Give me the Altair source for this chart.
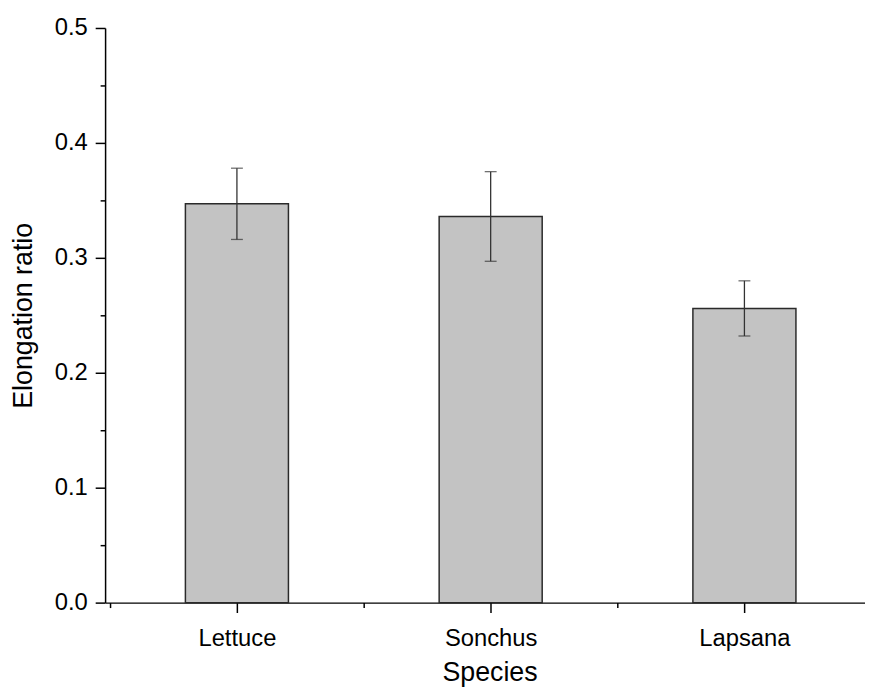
import altair as alt
import pandas as pd

species = ["Lettuce", "Sonchus", "Lapsana"]
means = [0.347, 0.336, 0.256]
errors = [0.031, 0.039, 0.024]
y_major = [0.0, 0.1, 0.2, 0.3, 0.4, 0.5]
y_minor = [0.05, 0.15, 0.25, 0.35, 0.45]
x_minor = [0.5, 1.5, 2.5]

positions = list(range(1, len(species) + 1))
df = pd.DataFrame({
    "species": species,
    "pos": positions,
    "mean": means,
    "lo": [m - e for m, e in zip(means, errors)],
    "hi": [m + e for m, e in zip(means, errors)],
})

FONT = "Arial, Liberation Sans, sans-serif"
W, H = 767, 580
step = 259.5
xdom = [0.5, 0.5 + W / step]
xscale = alt.Scale(domain=xdom, nice=False, zero=False)
yscale = alt.Scale(domain=[0, 0.5], nice=False, zero=True)

label_expr = "[" + ",".join("'%s'" % s for s in species) + "][datum.value - 1]"

x_major_axis = alt.Axis(values=positions, labelExpr=label_expr, title="Species",
                        tickSize=10, labelPadding=14, grid=False,
                        labelFontSize=24, titleFontSize=27, titlePadding=10,
                        titleX=388)
y_major_axis = alt.Axis(values=y_major, format=".1f", title="Elongation ratio",
                        tickSize=10, labelPadding=8, grid=False,
                        labelFontSize=24, titleFontSize=27, titlePadding=17)

bars = alt.Chart(df).mark_bar(size=104, color="#c3c3c3", stroke="#2a2a2a",
                              strokeWidth=1.5).encode(
    x=alt.X("pos:Q", scale=xscale, axis=x_major_axis),
    y=alt.Y("mean:Q", scale=yscale, axis=y_major_axis),
)

x_minor_axis = alt.Axis(values=x_minor, labels=False, domain=False, title=None,
                        tickSize=5, grid=False, orient="bottom")
y_minor_axis = alt.Axis(values=y_minor, labels=False, domain=False, title=None,
                        tickSize=5, grid=False, orient="left")

rules = alt.Chart(df).mark_rule(color="#333333", strokeWidth=1.3).encode(
    x=alt.X("pos:Q", scale=xscale, axis=x_minor_axis),
    y=alt.Y("lo:Q", scale=yscale, axis=y_minor_axis),
    y2="hi:Q",
)

caps_lo = alt.Chart(df).mark_tick(orient="horizontal", size=12, thickness=1.3,
                                  color="#333333").encode(
    x=alt.X("pos:Q", scale=xscale, axis=None),
    y=alt.Y("lo:Q", scale=yscale, axis=None),
)
caps_hi = alt.Chart(df).mark_tick(orient="horizontal", size=12, thickness=1.3,
                                  color="#333333").encode(
    x=alt.X("pos:Q", scale=xscale, axis=None),
    y=alt.Y("hi:Q", scale=yscale, axis=None),
)

chart = alt.layer(bars, rules, caps_lo, caps_hi).resolve_axis(
    x="independent", y="independent"
).properties(
    width=W, height=H,
    autosize=alt.AutoSizeParams(type="none"),
    padding={"left": 98, "top": 17, "right": 0, "bottom": 83},
    background="white",
).configure_view(stroke=None).configure_axis(
    domainColor="black", domainWidth=1.5, tickColor="black", tickWidth=1.5,
    labelColor="black", titleColor="black", labelFont=FONT, titleFont=FONT,
    titleFontWeight="normal",
)

chart.save("out.html", embed_options={"renderer": "svg", "actions": False})
